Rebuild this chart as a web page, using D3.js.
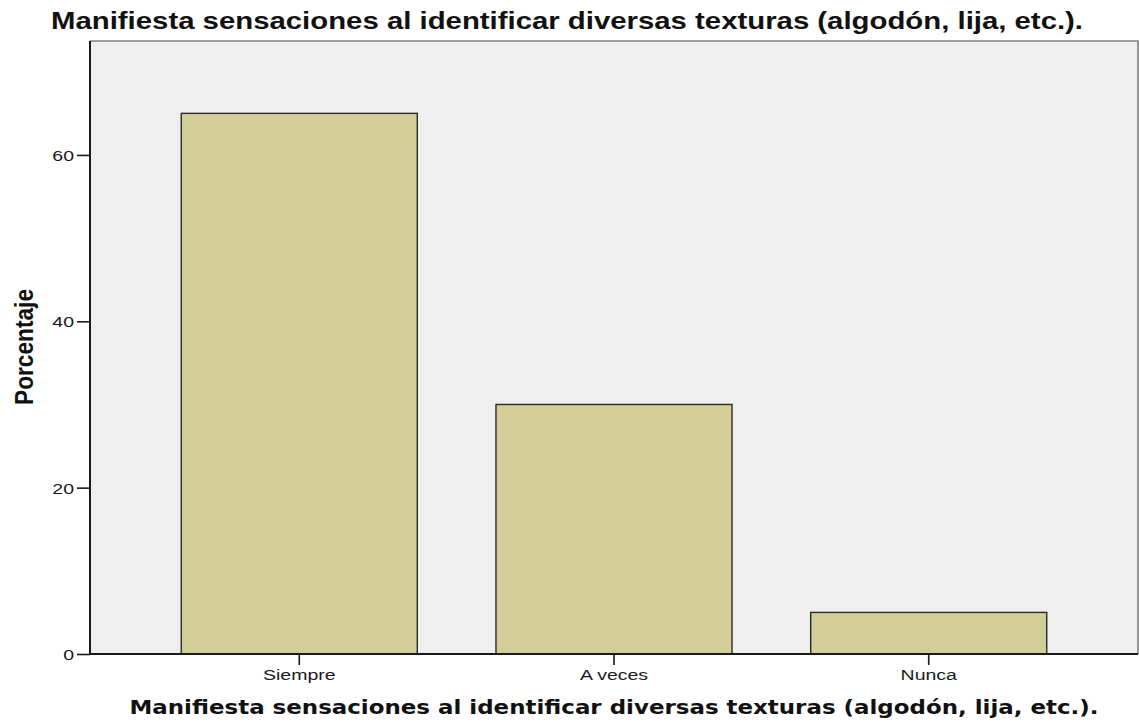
<!DOCTYPE html>
<html>
<head>
<meta charset="utf-8">
<script src="https://cdn.jsdelivr.net/npm/d3@7"></script>
<style>
  html, body { margin: 0; padding: 0; background: #ffffff; }
  svg { display: block; }
</style>
</head>
<body>
<svg id="chart" width="1139" height="723"></svg>
<script>
// ---- data ----
const categories = ["Siempre", "A veces", "Nunca"];
const percentages = [65, 30, 5];
const yTicks = [0, 20, 40, 60];
const chartTitle = "Manifiesta sensaciones al identificar diversas texturas (algodón, lija, etc.).";
const xAxisTitle = "Manifiesta sensaciones al identificar diversas texturas (algodón, lija, etc.).";
const yAxisTitle = "Porcentaje";

// ---- layout ----
const plot = { left: 90, right: 1138, top: 41, bottom: 654 };
const SX = 1.3; // horizontal stretch of the original picture

const svg = d3.select("#chart");

const x = d3.scaleBand()
  .domain(categories)
  .range([plot.left, plot.right])
  .paddingInner(0.25)
  .paddingOuter(0.29);

const y = d3.scaleLinear()
  .domain([0, 73.7])
  .range([plot.bottom, plot.top]);

// plot background + frame
svg.append("rect")
  .attr("x", plot.left).attr("y", plot.top)
  .attr("width", plot.right - plot.left).attr("height", plot.bottom - plot.top)
  .attr("fill", "#efefef");
svg.append("path")
  .attr("d", `M${plot.left},${plot.top}H${plot.right}V${plot.bottom}`)
  .attr("fill", "none").attr("stroke", "#808080").attr("stroke-width", 1.6);

// bars
svg.append("g").selectAll("rect")
  .data(categories.map((c, i) => ({ c, v: percentages[i] })))
  .join("rect")
  .attr("x", d => x(d.c))
  .attr("width", x.bandwidth())
  .attr("y", d => y(d.v))
  .attr("height", d => y(0) - y(d.v))
  .attr("fill", "#d3ce97")
  .attr("stroke", "#2a2a2a")
  .attr("stroke-width", 1.4);

// y axis
const yAxis = svg.append("g")
  .attr("transform", `translate(${plot.left},0)`)
  .call(d3.axisLeft(y).tickValues(yTicks).tickFormat(d3.format("d")).tickSize(13).tickPadding(0));
yAxis.select(".domain").attr("stroke", "#1a1a1a").attr("stroke-width", 2)
  .attr("d", `M0,${plot.top}V${plot.bottom}`);
yAxis.selectAll(".tick line").attr("stroke", "#1a1a1a").attr("stroke-width", 1.6);
yAxis.selectAll(".tick text")
  .attr("x", -16 / SX)
  .attr("dy", "0.36em")
  .attr("transform", `scale(${SX},1)`)
  .attr("font-family", "'Liberation Sans', Arial, sans-serif")
  .attr("font-size", 15)
  .attr("fill", "#1a1a1a");

// x axis
const xAxis = svg.append("g")
  .attr("transform", `translate(0,${plot.bottom})`)
  .call(d3.axisBottom(x).tickSize(11).tickPadding(0));
xAxis.select(".domain").attr("stroke", "#1a1a1a").attr("stroke-width", 2)
  .attr("d", `M${plot.left},0H${plot.right}`);
xAxis.selectAll(".tick line").attr("stroke", "#1a1a1a").attr("stroke-width", 1.6);
xAxis.selectAll(".tick text")
  .attr("y", 26).attr("dy", 0)
  .attr("transform", `scale(${SX},1)`)
  .attr("font-family", "'Liberation Sans', Arial, sans-serif")
  .attr("font-size", 15)
  .attr("fill", "#1a1a1a");

// chart title
svg.append("text")
  .attr("transform", `translate(567,29.3) scale(${SX},1)`)
  .attr("text-anchor", "middle")
  .attr("font-family", "'Liberation Sans', Arial, sans-serif")
  .attr("font-weight", "bold")
  .attr("font-size", 23)
  .attr("fill", "#111")
  .attr("textLength", 1032 / SX)
  .attr("lengthAdjust", "spacingAndGlyphs")
  .text(chartTitle);

// x axis title
svg.append("text")
  .attr("x", (plot.left + plot.right) / 2)
  .attr("y", 714)
  .attr("text-anchor", "middle")
  .attr("font-family", "'DejaVu Sans', Verdana, sans-serif")
  .attr("font-weight", "bold")
  .attr("font-size", 19)
  .attr("fill", "#111")
  .attr("textLength", 969)
  .attr("lengthAdjust", "spacingAndGlyphs")
  .text(xAxisTitle);

// y axis title
svg.append("text")
  .attr("transform", `translate(33,347) scale(${SX},1) rotate(-90)`)
  .attr("text-anchor", "middle")
  .attr("font-family", "'Liberation Sans', Arial, sans-serif")
  .attr("font-weight", "bold")
  .attr("font-size", 20)
  .attr("fill", "#111")
  .attr("textLength", 116)
  .attr("lengthAdjust", "spacingAndGlyphs")
  .text(yAxisTitle);
</script>
</body>
</html>
